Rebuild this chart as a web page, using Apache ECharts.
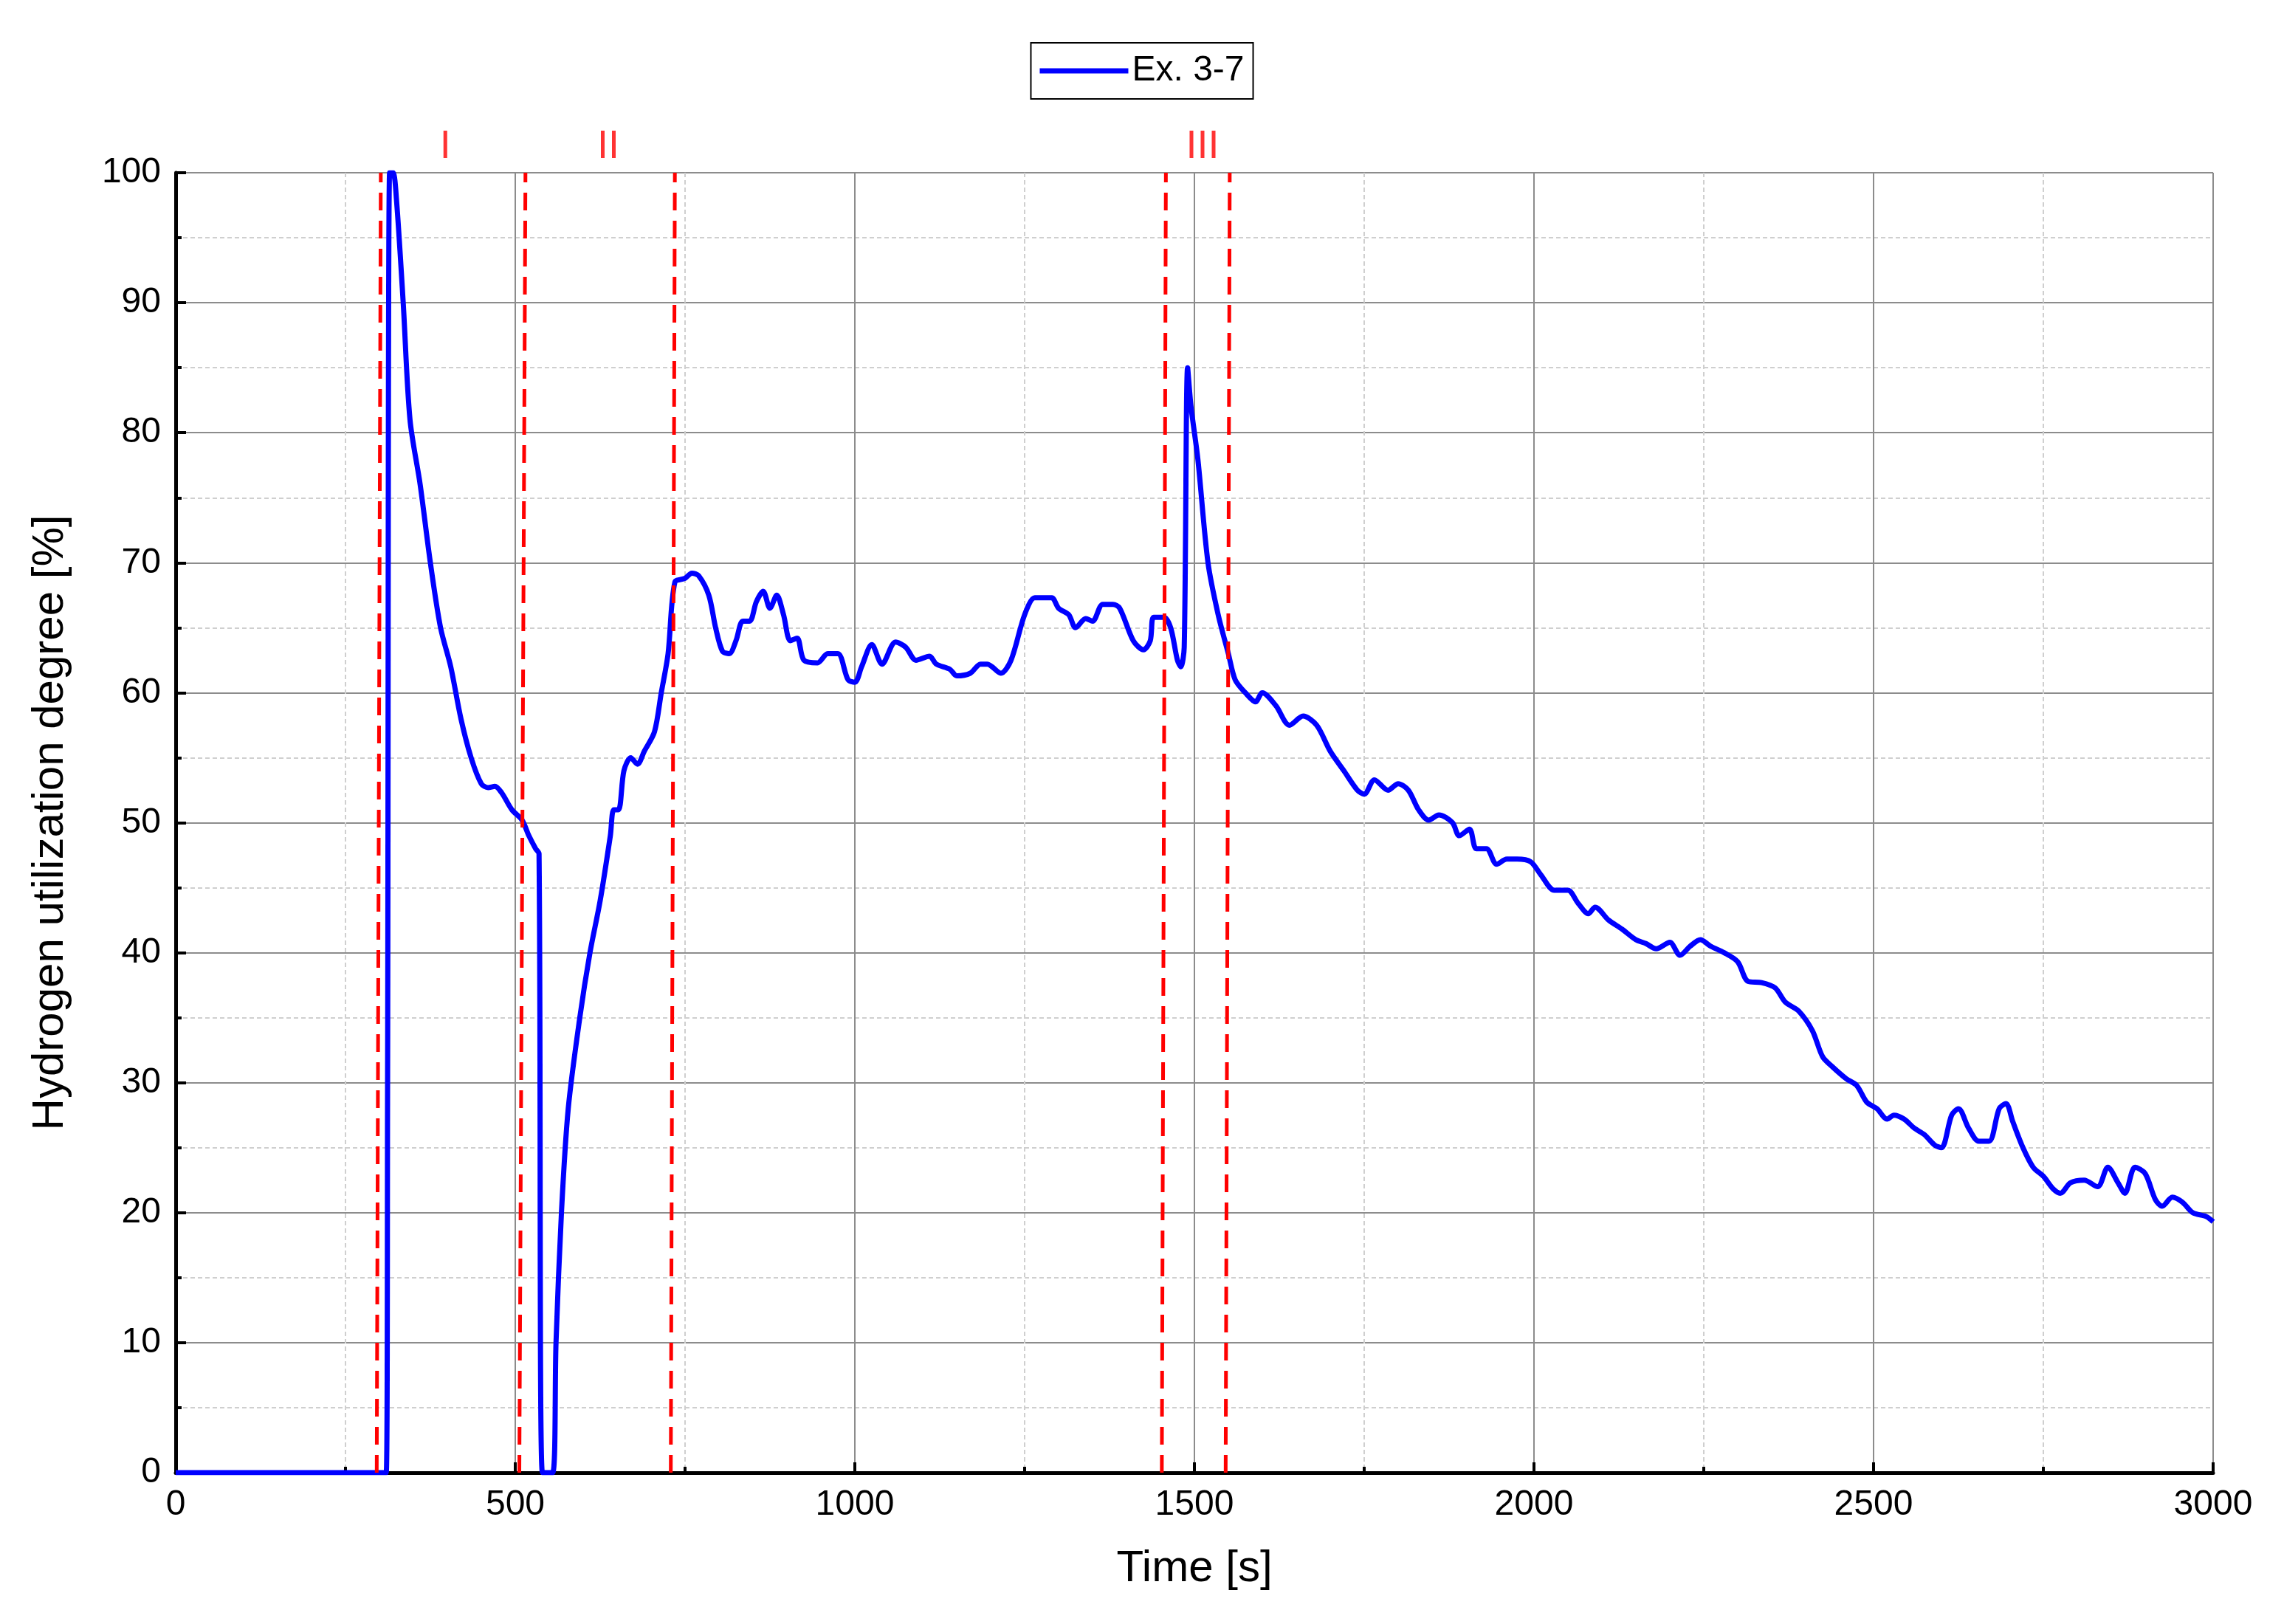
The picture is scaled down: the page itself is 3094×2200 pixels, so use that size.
<!DOCTYPE html>
<html><head><meta charset="utf-8">
<script src="https://cdn.jsdelivr.net/npm/echarts@6/dist/echarts.min.js"></script>
<style>html,body{margin:0;background:#fff}#c{width:3094px;height:2200px}</style>
</head><body><div id="c"></div>
<script>
const times=[0,300,310,312,315,320,325,335,345,360,375,390,405,420,435,450,460,470,480,495,510,520,530,535,540,555,560,568,578,595,610,625,640,645,652,660,670,680,690,705,715,725,735,750,760,770,785,795,805,815,825,835,845,855,865,875,885,895,905,915,925,945,960,975,990,1000,1010,1025,1040,1060,1075,1090,1110,1120,1140,1150,1170,1185,1195,1215,1230,1250,1265,1275,1290,1300,1315,1325,1340,1350,1365,1380,1390,1410,1425,1435,1440,1455,1465,1475,1480,1485,1490,1495,1505,1520,1535,1550,1560,1575,1590,1600,1620,1640,1660,1680,1700,1720,1740,1750,1765,1785,1800,1815,1830,1845,1860,1880,1890,1905,1915,1930,1945,1960,1975,1995,2010,2030,2050,2065,2080,2090,2110,2130,2150,2165,2180,2200,2215,2230,2245,2260,2280,2300,2315,2335,2355,2370,2390,2410,2425,2440,2460,2475,2490,2505,2520,2530,2545,2560,2575,2590,2600,2615,2625,2640,2655,2670,2685,2695,2705,2720,2735,2750,2765,2775,2790,2810,2830,2845,2860,2870,2885,2900,2915,2925,2940,2955,2970,2990,3000];
const values=[0,0,0,30,100,100,98,90,81,76,70,65,62,58,55,53,52.7,52.8,52.3,51,50.2,49,48,47.6,0,0,10,20,28,35,40,44,49,51,51,54,55,54.5,55.5,57,60,63,68.5,68.8,69.2,69,67.5,65,63.2,63,64,65.5,65.5,67,67.8,66.5,67.5,66,64,64.2,62.5,62.3,63,63,61,60.8,62,63.7,62.2,63.9,63.5,62.5,62.8,62.2,61.8,61.3,61.5,62.2,62.2,61.5,62.5,66,67.3,67.3,67.3,66.5,66,65,65.7,65.5,66.8,66.8,66.5,64,63.3,64,65.8,65.8,65,62.5,62,63.5,85,82,78,70,66,63,61,60,59.3,60,59,57.5,58.2,57.5,55.5,54,52.5,52.2,53.3,52.5,53,52.5,51,50.2,50.6,50,49,49.5,48,48,46.8,47.2,47.2,47,46,44.8,44.8,43.8,43,43.5,42.5,41.8,41,40.7,40.3,40.8,39.8,40.5,41,40.5,40,39.3,37.8,37.7,37.3,36.2,35.5,34,32,31.2,30.3,29.8,28.5,28,27.2,27.5,27.2,26.5,26,25.2,25,27.5,28,26.5,25.5,25.5,28,28.4,27,25,23.5,22.8,21.8,21.5,22.3,22.5,22,23.5,22.3,21.5,23.5,23,21,20.5,21.2,20.8,20,19.7,19.3];
const markBottom=[296,506,729,1452,1546];
const markTop=[302,515,735,1458,1552];
const phaseLabels=['I','II','III'];
const phaseX=[397,637,1512];

const chart=echarts.init(document.getElementById('c'));
const ff='Liberation Sans';
chart.setOption({
  animation:false,
  textStyle:{fontFamily:ff},
  legend:{top:58,left:'center',icon:'rect',itemWidth:120,itemHeight:7,borderColor:'#000',borderWidth:2,borderRadius:0,padding:[14,12,14,12],
    textStyle:{fontSize:48,color:'#000',fontFamily:ff},data:['Ex. 3-7']},
  grid:{left:238,right:96,top:234,bottom:205},
  xAxis:{type:'value',min:0,max:3000,interval:500,name:'Time [s]',nameLocation:'middle',nameGap:100,
    nameTextStyle:{fontSize:60,color:'#000',fontFamily:ff},
    axisLine:{onZero:false,lineStyle:{color:'#000',width:5}},
    axisTick:{inside:true,length:14,lineStyle:{color:'#000',width:4}},
    minorTick:{show:true,splitNumber:2,length:8,lineStyle:{color:'#000',width:4}},
    axisLabel:{fontSize:48,color:'#000',margin:20,formatter:v=>String(v)},
    splitLine:{lineStyle:{color:'#8c8c8c',width:2}},
    minorSplitLine:{show:true,lineStyle:{color:'#cfcfcf',width:2,type:[6,4]}}},
  yAxis:{type:'value',min:0,max:100,interval:10,name:'Hydrogen utilization degree [%]',nameLocation:'middle',nameGap:140,
    nameTextStyle:{fontSize:60,color:'#000',fontFamily:ff},
    axisLine:{lineStyle:{color:'#000',width:5}},
    axisTick:{inside:true,length:14,lineStyle:{color:'#000',width:4}},
    minorTick:{show:true,splitNumber:2,length:8,lineStyle:{color:'#000',width:4}},
    axisLabel:{fontSize:48,color:'#000',margin:20},
    splitLine:{lineStyle:{color:'#8c8c8c',width:2}},
    minorSplitLine:{show:true,lineStyle:{color:'#cfcfcf',width:2,type:[6,4]}}},
  series:[
    {name:'Ex. 3-7',type:'line',data:times.map((t,i)=>[t,values[i]]),showSymbol:false,smooth:0.3,
     lineStyle:{color:'#0000ff',width:7},itemStyle:{color:'#0000ff'},z:3,
     markLine:{silent:true,symbol:'none',label:{show:false},lineStyle:{color:'#ff0000',width:5,type:[24,14]},
       data:markBottom.map((b,i)=>[{coord:[b,0]},{coord:[markTop[i],100]}])}},
    {type:'scatter',data:phaseX.map((x,i)=>({value:[x,100],label:{formatter:phaseLabels[i]}})),symbolSize:0,clip:false,silent:true,
     label:{show:true,position:'top',distance:8,color:'#ff0000',fontSize:54,fontFamily:ff}}
  ]
});
</script></body></html>
